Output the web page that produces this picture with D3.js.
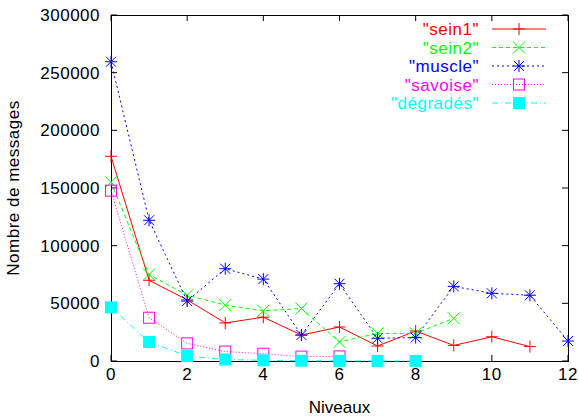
<!DOCTYPE html>
<html><head><meta charset="utf-8">
<script src="https://cdn.jsdelivr.net/npm/d3@7"></script>
<style>body{margin:0;background:#fff}svg{display:block}text{font-family:"Liberation Sans",Arial,sans-serif;letter-spacing:0.5px}</style>
</head><body><svg id="c" width="579" height="417"></svg>
<script>
const sein1 = [177500, 70000, 53000, 33000, 38000, 22500, 29500, 13000, 26000, 13500, 21000, 12500];
const sein2 = [155000, 75000, 57000, 48500, 43500, 45500, 16500, 24000, 24000, 37000];
const muscle = [259500, 122000, 52000, 80000, 71000, 22500, 67000, 19700, 20300, 64700, 58700, 57000, 17300];
const savoise = [147700, 37500, 15300, 8200, 6300, 3800, 4000];
const degrades = [46500, 16500, 4300, 1300, 600, 200, 100, 50, 20];
const seriesNames = ['"sein1"', '"sein2"', '"muscle"', '"savoise"', '"dégradés"'];
const xTicks = [0, 2, 4, 6, 8, 10, 12];
const yTicks = [0, 50000, 100000, 150000, 200000, 250000, 300000];
const xLabel = "Niveaux", yLabel = "Nombre de messages";

const series = [
  {name: seriesNames[0], values: sein1, color: "#ff0000", dash: null, marker: "plus"},
  {name: seriesNames[1], values: sein2, color: "#00ff00", dash: "4,3", marker: "cross"},
  {name: seriesNames[2], values: muscle, color: "#0000ff", dash: "2,3", marker: "star"},
  {name: seriesNames[3], values: savoise, color: "#ff00ff", dash: "1,2", marker: "box"},
  {name: seriesNames[4], values: degrades, color: "#00ffff", dash: "6,3,1,3", marker: "fbox"}
];

const FS = 17;
const svg = d3.select("#c");
const L = 111, R = 568, T = 15, B = 361;
const x = d3.scaleLinear().domain([0, 12]).range([L, R]);
const y = d3.scaleLinear().domain([0, 300000]).range([B, T]);

const tl = 6;
const g = svg.append("g");
xTicks.forEach(t => {
  g.append("line").attr("x1", x(t)).attr("x2", x(t)).attr("y1", B).attr("y2", B - tl).attr("stroke", "#000");
  g.append("line").attr("x1", x(t)).attr("x2", x(t)).attr("y1", T).attr("y2", T + tl).attr("stroke", "#000");
  g.append("text").attr("x", x(t)).attr("y", B + 19).attr("text-anchor", "middle").attr("font-size", FS).attr("fill", "#000").text(t);
});
yTicks.forEach(t => {
  g.append("line").attr("x1", L).attr("x2", L + tl).attr("y1", y(t)).attr("y2", y(t)).attr("stroke", "#000");
  g.append("line").attr("x1", R).attr("x2", R - tl).attr("y1", y(t)).attr("y2", y(t)).attr("stroke", "#000");
  g.append("text").attr("x", L - 11).attr("y", y(t) + 6).attr("text-anchor", "end").attr("font-size", FS).attr("fill", "#000").text(t);
});
svg.append("rect").attr("x", L + 0.5).attr("y", T + 0.5).attr("width", R - L).attr("height", B - T).attr("fill", "none").attr("stroke", "#000");

svg.append("text").attr("x", (L + R) / 2).attr("y", 413).attr("text-anchor", "middle").attr("font-size", FS).style("letter-spacing", "0px").text(xLabel);
svg.append("text").attr("transform", `translate(19,${(T + B) / 2}) rotate(-90)`).attr("text-anchor", "middle").attr("font-size", FS).text(yLabel);

function marker(sel, type, cx, cy, color) {
  const s = 6;
  if (type === "plus" || type === "star") {
    sel.append("line").attr("x1", cx - s).attr("x2", cx + s).attr("y1", cy).attr("y2", cy).attr("stroke", color);
    sel.append("line").attr("x1", cx).attr("x2", cx).attr("y1", cy - s).attr("y2", cy + s).attr("stroke", color);
  }
  if (type === "cross" || type === "star") {
    const d = type === "star" ? 5 : 6;
    sel.append("line").attr("x1", cx - d).attr("x2", cx + d).attr("y1", cy - d).attr("y2", cy + d).attr("stroke", color);
    sel.append("line").attr("x1", cx - d).attr("x2", cx + d).attr("y1", cy + d).attr("y2", cy - d).attr("stroke", color);
  }
  if (type === "box") {
    sel.append("rect").attr("x", cx - 5.5).attr("y", cy - 5.5).attr("width", 11).attr("height", 11).attr("fill", "none").attr("stroke", color);
  }
  if (type === "fbox") {
    sel.append("rect").attr("x", cx - 6).attr("y", cy - 6).attr("width", 12).attr("height", 12).attr("fill", color);
  }
}

const line = d3.line().x((d, i) => x(i)).y(d => y(d));
series.forEach(s => {
  const gs = svg.append("g");
  gs.append("path").attr("d", line(s.values)).attr("fill", "none").attr("stroke", s.color).attr("stroke-width", 1)
    .attr("stroke-dasharray", s.dash);
  s.values.forEach((v, i) => marker(gs, s.marker, x(i), y(v), s.color));
});

series.forEach((s, i) => {
  const ly = 29 + i * 18.5;
  svg.append("text").attr("x", 479).attr("y", ly + 6).attr("text-anchor", "end").attr("font-size", FS).attr("fill", s.color).text(s.name);
  svg.append("line").attr("x1", 492).attr("x2", 546).attr("y1", ly).attr("y2", ly).attr("stroke", s.color).attr("stroke-dasharray", s.dash);
  marker(svg, s.marker, 519, ly, s.color);
});
</script></body></html>
